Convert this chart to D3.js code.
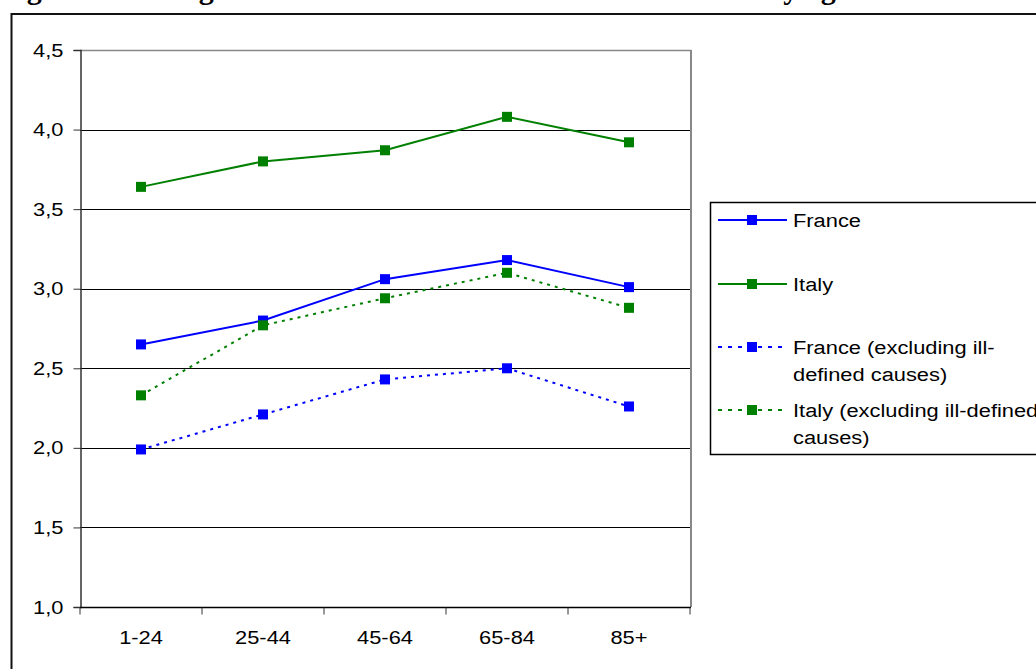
<!DOCTYPE html>
<html><head><meta charset="utf-8">
<script src="https://cdn.jsdelivr.net/npm/d3@7"></script>
<style>body{margin:0;background:#fff;overflow:hidden}svg{display:block}</style>
</head><body>
<script>
const categories = ["1-24", "25-44", "45-64", "65-84", "85+"];
const france = [2.65, 2.80, 3.06, 3.18, 3.01];
const italy = [3.64, 3.80, 3.87, 4.08, 3.92];
const franceExcl = [1.99, 2.21, 2.43, 2.50, 2.26];
const italyExcl = [2.33, 2.77, 2.94, 3.10, 2.88];
const yTicks = [1.0, 1.5, 2.0, 2.5, 3.0, 3.5, 4.0, 4.5];
const seriesNames = ["France", "Italy", "France (excluding ill-|defined causes)", "Italy (excluding ill-defined|causes)"];

const W = 1036, H = 669;
const svg = d3.select("body").append("svg").attr("width", W).attr("height", H);
const font = "'Liberation Sans', Arial, sans-serif";
const sx = 1.15;
const fs = 19;

// title (mostly cropped off the top, as in the reference)
svg.append("text").attr("x", 0).attr("y", -1.5)
  .attr("font-family", "'Liberation Serif', 'Times New Roman', serif")
  .attr("font-weight", "bold").attr("font-size", 30)
  .text("Figure 2: Average number of causes on the death certificate by age");

// outer frame
svg.append("rect").attr("x", 11.5).attr("y", 14).attr("width", W + 20).attr("height", H + 20)
  .attr("fill", "none").attr("stroke", "#111").attr("stroke-width", 2);

const x = d3.scaleBand().domain(categories).range([80, 690]);
const y = d3.scaleLinear().domain([1, 4.5]).range([607, 50]);

// gridlines
svg.append("g").selectAll("line").data(yTicks.filter(v => v > 1 && v < 4.5)).join("line")
  .attr("x1", 80).attr("x2", 690)
  .attr("y1", d => Math.round(y(d)) + 0.5).attr("y2", d => Math.round(y(d)) + 0.5)
  .attr("stroke", "#000").attr("stroke-width", 1);

// plot border top/right
svg.append("line").attr("x1", 80).attr("x2", 691).attr("y1", 50.5).attr("y2", 50.5).attr("stroke", "#888").attr("stroke-width", 1.5);
svg.append("line").attr("x1", 691).attr("x2", 691).attr("y1", 50).attr("y2", 607).attr("stroke", "#888").attr("stroke-width", 2);

// y axis
const yAxis = d3.axisLeft(y).tickValues(yTicks).tickSize(7).tickPadding(10)
  .tickFormat(d => d3.format(".1f")(d).replace(".", ","));
const gy = svg.append("g").attr("transform", "translate(80.5,0)").call(yAxis);
gy.select(".domain").attr("stroke", "#333").attr("stroke-width", 1.5);
gy.selectAll(".tick line").attr("stroke", "#333");
gy.selectAll(".tick text").attr("font-family", font).attr("font-size", fs).attr("fill", "#000")
  .each(function() {
    const t = d3.select(this);
    const xx = +t.attr("x");
    t.attr("x", null).attr("transform", `translate(${xx},0) scale(${sx},1)`);
  });

// x axis
const gx = svg.append("g").attr("transform", "translate(0,607.5)");
gx.append("line").attr("x1", 80).attr("x2", 691).attr("stroke", "#000").attr("stroke-width", 1.5);
const bounds = categories.map(c => x(c)).concat([x.range()[1]]);
gx.selectAll("line.tk").data(bounds).join("line").attr("class", "tk")
  .attr("x1", d => d).attr("x2", d => d).attr("y1", 0).attr("y2", 7).attr("stroke", "#333");
gx.selectAll("text").data(categories).join("text")
  .attr("transform", d => `translate(${x(d) + x.bandwidth() / 2},36) scale(${sx},1)`)
  .attr("text-anchor", "middle").attr("font-family", font).attr("font-size", fs).text(d => d);

// series
const series = [
  { vals: france, color: "#0000ff", dash: null },
  { vals: italy, color: "#008000", dash: null },
  { vals: franceExcl, color: "#0000ff", dash: "3,5" },
  { vals: italyExcl, color: "#008000", dash: "3,5" }
];
const line = d3.line().x((d, i) => x(categories[i]) + x.bandwidth() / 2).y(d => y(d));
series.forEach(s => {
  svg.append("path").datum(s.vals).attr("d", line).attr("fill", "none")
    .attr("stroke", s.color).attr("stroke-width", 2).attr("stroke-dasharray", s.dash);
});
series.forEach(s => {
  svg.append("g").selectAll("rect").data(s.vals).join("rect")
    .attr("x", (d, i) => x(categories[i]) + x.bandwidth() / 2 - 5)
    .attr("y", d => y(d) - 5).attr("width", 10).attr("height", 10).attr("fill", s.color);
});

// legend
svg.append("rect").attr("x", 710.5).attr("y", 202.5).attr("width", 400).attr("height", 252)
  .attr("fill", "#fff").attr("stroke", "#000").attr("stroke-width", 1.5);
const legY = [220, 284, 347, 410];
series.forEach((s, i) => {
  const g = svg.append("g");
  g.append("line").attr("x1", 718).attr("x2", 787).attr("y1", legY[i]).attr("y2", legY[i])
    .attr("stroke", s.color).attr("stroke-width", 2).attr("stroke-dasharray", s.dash ? "4,6" : null);
  g.append("rect").attr("x", 747).attr("y", legY[i] - 5).attr("width", 10).attr("height", 10).attr("fill", s.color);
  seriesNames[i].split("|").forEach((ln, j) => {
    g.append("text").attr("transform", `translate(793,${legY[i] + 7 + j * 27}) scale(${sx},1)`)
      .attr("font-family", font).attr("font-size", fs).text(ln);
  });
});
</script>
</body></html>
